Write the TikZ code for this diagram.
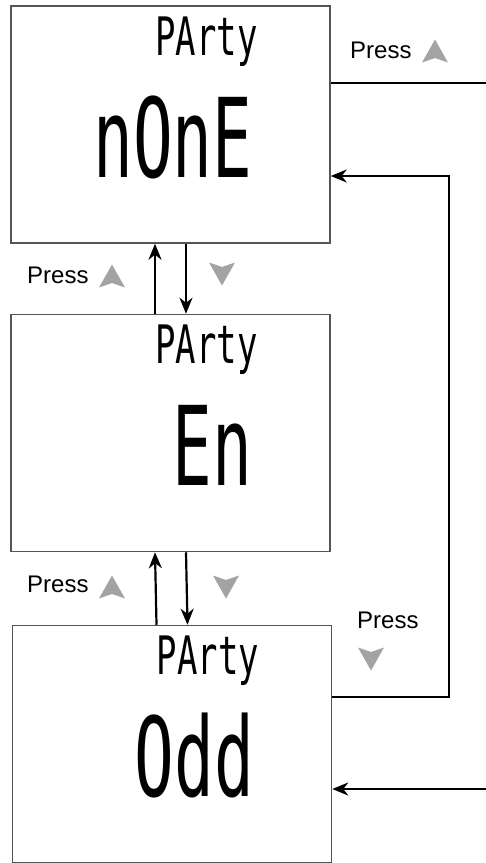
\documentclass[tikz,border=0pt]{standalone}
\usepackage{fontspec}
\setmainfont{Liberation Sans}
\newfontfamily\lcdfont{DejaVu Sans Mono}
\usepackage{graphicx}
\usepackage{xcolor}
\usetikzlibrary{arrows.meta, positioning, calc}
\definecolor{keygray}{HTML}{A3A3A3}
\definecolor{framegray}{HTML}{555555}

\begin{document}
\begin{tikzpicture}[
    x=1pt, y=-1pt,
    >={Stealth[length=16pt, width=13pt, inset=5pt]},
    screen/.style={draw=framegray, line width=1.5pt, fill=white, minimum width=319pt, minimum height=237pt, inner sep=0pt},
    title/.style={font=\lcdfont\fontsize{53}{53}\selectfont, inner sep=0pt, anchor=base},
    value/.style={font=\lcdfont\fontsize{110}{110}\selectfont, inner sep=0pt, anchor=base east},
    press/.style={font=\fontsize{24}{24}\selectfont, inner sep=0pt, anchor=base west},
    link/.style={line width=2.2pt},
    keyup/.pic={\fill[keygray] (0,-11.5) -- (13,11.5) -- (0,7) -- (-13,11.5) -- cycle;},
    keydown/.pic={\fill[keygray] (0,11.5) -- (13,-11.5) -- (0,-7) -- (-13,-11.5) -- cycle;}
]
    \useasboundingbox (0,0) rectangle (486,863);

    % Screens
    \node[screen] (none) at (170.5,124.5) {};
    \node[screen] (even) at (170.5,433) {};
    \node[screen] (odd)  at (172,744) {};

    % Display texts
    \node[title] (noneT) at ($(none.north)+(36,50)$) {\scalebox{0.64}[1]{PArty}};
    \node[title] (evenT) at ($(even.north)+(36,50)$) {\scalebox{0.64}[1]{PArty}};
    \node[title] (oddT)  at ($(odd.north)+(36,50)$)  {\scalebox{0.64}[1]{PArty}};
    \node[value] (noneV) at ($(none.north)+(82,172)$) {\scalebox{0.6}[1]{nOnE}};
    \node[value] (evenV) at ($(even.north)+(82,172)$) {\scalebox{0.6}[1]{En}};
    \node[value] (oddV)  at ($(odd.north)+(82,172)$)  {\scalebox{0.6}[1]{Odd}};

    % Up / down between screens
    \draw[link, ->] ([xshift=-15.5pt]even.north) -- ([xshift=-15.5pt]none.south);
    \draw[link, ->] ([xshift=15.5pt]none.south) -- ([xshift=15.5pt]even.north);
    \draw[link, ->] ([xshift=-15.5pt]odd.north) -- ([xshift=-15.5pt]even.south);
    \draw[link, ->] ([xshift=15.5pt]even.south) -- ([xshift=15.5pt]odd.north);

    % Wrap-around
    \coordinate (outtop) at (486,83);
    \coordinate (inbottom) at (486,789);
    \draw[link] ([yshift=41.5pt]none.east) -- (outtop);
    \draw[link, ->] (inbottom) -- ([yshift=-45pt]odd.east);
    \draw[link, ->] ([yshift=47pt]odd.east) -- ++(117,0) |- ([yshift=-51.5pt]none.east);

    % Key labels
    \node[press] (pressTop) at (350,58) {Press};
    \pic at (435,51) {keyup};
    \node[press] (pressUp1) at (27,283) {Press};
    \pic at (112,276) {keyup};
    \pic at (222,274) {keydown};
    \node[press] (pressUp2) at (27,592) {Press};
    \pic at (112,587) {keyup};
    \pic at (226,587) {keydown};
    \node[press] (pressDown) at (357,628) {Press};
    \pic at (371,659) {keydown};
\end{tikzpicture}
\end{document}
